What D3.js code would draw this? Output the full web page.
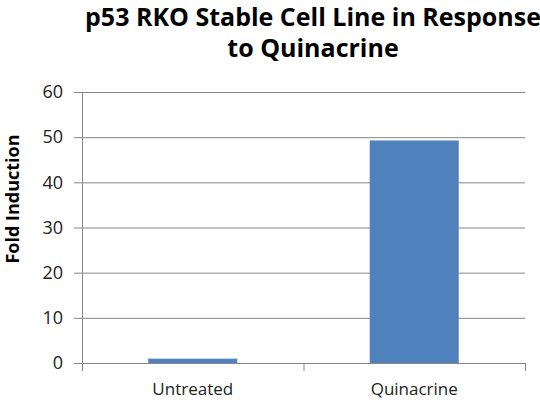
<!DOCTYPE html>
<meta charset="utf-8">
<style>
  body { margin: 0; background: #fff; }
  svg { display: block; }
  text { font-family: "Open Sans", sans-serif; fill: #222; }
  .title { font-weight: bold; font-size: 25px; fill: #000; }
  .ylabel { font-weight: bold; font-size: 18px; fill: #000; }
</style>
<body>
<script src="https://d3js.org/d3.v7.min.js"></script>
<script>
// chart data
var categories = ["Untreated", "Quinacrine"];
var values     = [0.9, 49.2];
var yTicks     = [0, 10, 20, 30, 40, 50, 60];
var titleLines = ["p53 RKO Stable Cell Line in Response", "to Quinacrine"];
var yTitle     = "Fold Induction";

var width = 540, height = 400;
var margin = {top: 92, right: 15, bottom: 37, left: 82};
var innerW = width - margin.left - margin.right,
    innerH = height - margin.top - margin.bottom;

var svg = d3.select("body").append("svg")
  .attr("width", width)
  .attr("height", height);

var chart = svg.append("g")
  .attr("transform", "translate(" + margin.left + "," + margin.top + ")");

var x = d3.scaleBand()
  .domain(categories)
  .range([0, innerW])
  .paddingInner(0.6)
  .paddingOuter(0.3);

var y = d3.scaleLinear()
  .domain([0, 60])
  .range([innerH, 0]);

// gridlines
chart.selectAll(".grid")
  .data(yTicks.filter(function(d){ return d > 0; }))
  .enter().append("line")
    .attr("class", "grid")
    .attr("x1", 0)
    .attr("x2", innerW)
    .attr("y1", function(d){ return y(d) + 0.5; })
    .attr("y2", function(d){ return y(d) + 0.5; })
    .attr("stroke", "#878787")
    .attr("stroke-width", 1);

// bars
chart.selectAll(".bar")
  .data(values)
  .enter().append("rect")
    .attr("class", "bar")
    .attr("x", function(d, i){ return x(categories[i]); })
    .attr("y", function(d){ return y(d); })
    .attr("width", x.bandwidth())
    .attr("height", function(d){ return innerH - y(d); })
    .attr("fill", "#4f81bd")
    .attr("stroke", "#5b8cc6")
    .attr("stroke-width", 0.5);

// y axis
var yAxis = chart.append("g")
  .call(d3.axisLeft(y).tickValues(yTicks).tickSize(8).tickPadding(11));
yAxis.select(".domain").attr("stroke", "#878787");
yAxis.selectAll(".tick line").attr("stroke", "#878787");
yAxis.selectAll(".tick text")
  .style("font-family", "'Open Sans', sans-serif")
  .style("font-size", "18px")
  .style("fill", "#222");

// x axis: ticks at band boundaries
var xAxis = chart.append("g")
  .attr("transform", "translate(0," + innerH + ")");
xAxis.append("line")
  .attr("x1", 0).attr("x2", innerW)
  .attr("y1", 0.5).attr("y2", 0.5)
  .attr("stroke", "#878787");
var bounds = categories.map(function(c){ return x(c) - x.step() * x.paddingInner() / 2; });
bounds.push(innerW);
bounds[0] = 0;
xAxis.selectAll(".xtick")
  .data(bounds)
  .enter().append("line")
    .attr("x1", function(d){ return d + 0.5; })
    .attr("x2", function(d){ return d + 0.5; })
    .attr("y1", 0)
    .attr("y2", 8)
    .attr("stroke", "#878787");
xAxis.selectAll(".xlabel")
  .data(categories)
  .enter().append("text")
    .attr("x", function(d){ return x(d) + x.bandwidth() / 2; })
    .attr("y", 32)
    .attr("text-anchor", "middle")
    .style("font-size", "17px")
    .text(function(d){ return d; });

// title
svg.selectAll(".title")
  .data(titleLines)
  .enter().append("text")
    .attr("class", "title")
    .attr("x", 313)
    .attr("y", function(d, i){ return 26 + i * 31; })
    .attr("text-anchor", "middle")
    .text(function(d){ return d; });

// y title
svg.append("text")
  .attr("class", "ylabel")
  .attr("transform", "translate(19,199) rotate(-90)")
  .attr("text-anchor", "middle")
  .text(yTitle);
</script>
</body>
